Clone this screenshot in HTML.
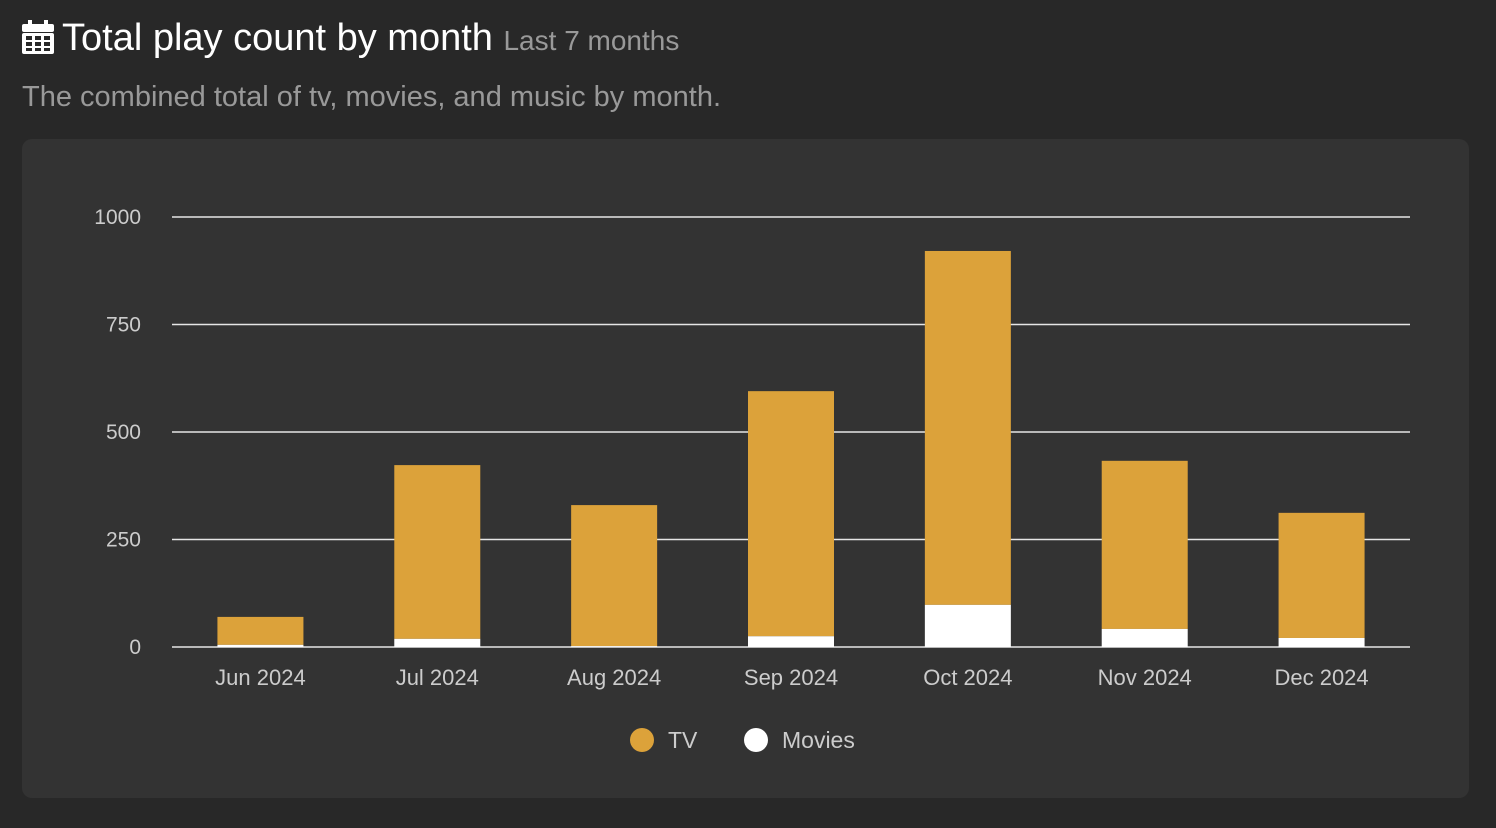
<!DOCTYPE html>
<html><head><meta charset="utf-8">
<style>
html,body{margin:0;padding:0;background:#282828;width:1496px;height:828px;overflow:hidden;font-family:"Liberation Sans",sans-serif;}
.title{position:absolute;left:22px;top:17px;color:#fff;font-size:38px;white-space:nowrap;}
.title small{font-size:28px;color:#999;}
.sub{position:absolute;left:22px;top:81px;color:#999;font-size:29px;white-space:nowrap;}
.panel{position:absolute;left:22px;top:139px;width:1447px;height:659px;background:#333;border-radius:10px;}
svg{position:absolute;left:0;top:0;}
</style></head><body>
<div class="title">
<svg style="position:relative;vertical-align:-4px;margin-right:8px" width="32" height="34" viewBox="0 0 32 34"><rect x="6" y="0" width="4" height="7" fill="#fff"/><rect x="22" y="0" width="4" height="7" fill="#fff"/><rect x="0" y="4" width="32" height="8" rx="2" fill="#fff"/><rect x="0" y="13" width="32" height="21" rx="2" fill="#fff"/><g fill="#282828"><rect x="4" y="16" width="6" height="4"/><rect x="13" y="16" width="6" height="4"/><rect x="22" y="16" width="6" height="4"/><rect x="4" y="22" width="6" height="4"/><rect x="13" y="22" width="6" height="4"/><rect x="22" y="22" width="6" height="4"/><rect x="4" y="28" width="6" height="3"/><rect x="13" y="28" width="6" height="3"/><rect x="22" y="28" width="6" height="3"/></g></svg>Total play count by month <small>Last 7 months</small></div>
<div class="sub">The combined total of tv, movies, and music by month.</div>
<div class="panel"></div>
<svg id="chart" width="1496" height="828"></svg>
<script>
const categories=["Jun 2024","Jul 2024","Aug 2024","Sep 2024","Oct 2024","Nov 2024","Dec 2024"];
const tvValues=[65,404,328,570,823,391,291];
const movieValues=[5,19,2,25,98,42,21];
const yTicks=[0,250,500,750,1000];
const NS="http://www.w3.org/2000/svg";
const svg=document.getElementById('chart');
const x0=172,x1=1410,yBase=647,yTop=217,yMax=1000;
const band=(x1-x0)/categories.length;
const y=v=>yBase-(v/yMax)*(yBase-yTop);
const xc=i=>x0+band*(i+0.5);
function mk(t,a){const e=document.createElementNS(NS,t);for(const k in a)e.setAttribute(k,a[k]);svg.appendChild(e);return e;}
yTicks.forEach(t=>{
 const l=mk('line',{x1:x0,x2:x1,y1:y(t),y2:y(t),stroke:'#e6e6e6','stroke-width':1.5});
 
 
 const tx=mk('text',{x:141,y:y(t)+7,'text-anchor':'end',fill:'#ccc','font-size':21,'font-family':'Liberation Sans, sans-serif'});
 tx.textContent=t;
 
 
});
const bw=86;
categories.forEach((c,i)=>{
 const tot=tvValues[i]+movieValues[i];
 const b1=mk('rect',{x:xc(i)-bw/2,y:y(tot),width:bw,height:y(movieValues[i])-y(tot),fill:'#dca23a'});
 
 
 const b2=mk('rect',{x:xc(i)-bw/2,y:y(movieValues[i]),width:bw,height:yBase-y(movieValues[i]),fill:'#fff'});
 
 
 const tx=mk('text',{x:xc(i),y:685,'text-anchor':'middle',fill:'#ccc','font-size':22,'font-family':'Liberation Sans, sans-serif'});
 tx.textContent=c;
 
 
});
const leg=[["TV","#dca23a",642],["Movies","#fff",756]];
leg.forEach(([n,col,cx])=>{
 const c=mk('circle',{cx:cx,cy:740,r:12,fill:col});
 
 
 const t=mk('text',{x:cx+26,y:748,fill:'#ccc','font-size':23,'font-family':'Liberation Sans, sans-serif'});
 t.textContent=n;
 
 
});
</script>
</body></html>
